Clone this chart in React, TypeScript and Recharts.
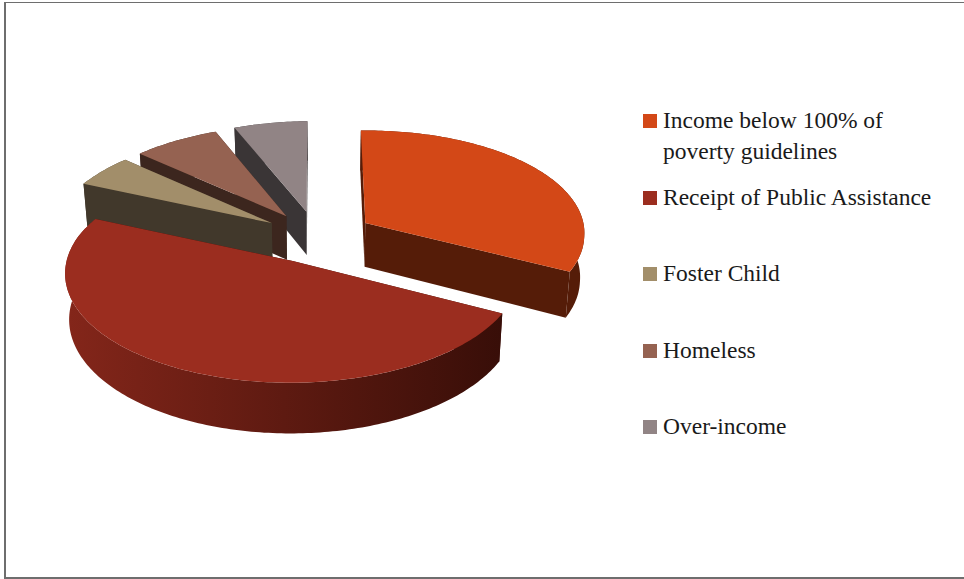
import React from 'react';
import { PieChart, Pie, Legend } from 'recharts';

const categories = [
  'Income below 100% of poverty guidelines',
  'Receipt of Public Assistance',
  'Foster Child',
  'Homeless',
  'Over-income',
];
const values = [33, 49, 5, 7, 6];

const topColors = ['#D34817', '#9B2D1F', '#A28E6A', '#956251', '#918485'];
const wallColors = ['#551C08', '#3E0F09', '#41382B', '#3C261E', '#3A3536'];
const rimLeftColors = ['#551C08', '#84261A', '#41382B', '#3C261E', '#3A3536'];
const rimRightColors = ['#551C08', '#380E08', '#41382B', '#3C261E', '#3A3536'];

// how far each slice is pulled out of the pie
const explodeBySlice = [0.258, 0.25, 0.25, 0.25, 0.255];

// legend row tops, the first row wraps on two lines
const legendRowTops = [105, 182, 258, 335, 411];

const TILT = 0.472;
const PERSPECTIVE = 0.1;
const BACK_SKEW = 5;
const DEPTH = 44.5;
const DEPTH_SHRINK = 0.016;

const pieData = categories
  .map((name, i) => ({
    name,
    value: values[i],
    colorIndex: i,
  }))
  .reverse();

// one slice of the tilted pie: walls first, then the rim, then the top face
const TiltedSlice = (props: any) => {
  const { cx, cy, outerRadius, startAngle, endAngle, payload } = props;
  const colorIndex = payload?.colorIndex ?? props.colorIndex;
  const rad = Math.PI / 180;
  const mid = ((startAngle + endAngle) / 2) * rad;
  const offU = explodeBySlice[colorIndex] * Math.cos(mid);
  const offV = -explodeBySlice[colorIndex] * Math.sin(mid);

  const project = (u: number, v: number, z: number) => {
    const s = 1 / (1 - PERSPECTIVE * v);
    const x = cx + outerRadius * u * s * (1 - DEPTH_SHRINK * z) - BACK_SKEW * Math.min(v, 0);
    const y = cy + outerRadius * TILT * v * s + DEPTH * z * s;
    return `${x.toFixed(2)} ${y.toFixed(2)}`;
  };
  const onDisc = (deg: number, z: number) =>
    project(offU + Math.cos(deg * rad), offV - Math.sin(deg * rad), z);
  const apex = (z: number) => project(offU, offV, z);

  const steps = Math.max(4, Math.ceil(Math.abs(endAngle - startAngle)));
  const angles: number[] = [];
  for (let i = 0; i <= steps; i++) {
    angles.push(startAngle + ((endAngle - startAngle) * i) / steps);
  }

  const arcTop = angles.map((a) => onDisc(a, 0));
  const arcBottom = angles.map((a) => onDisc(a, 1)).reverse();
  const rim = `M${[...arcTop, ...arcBottom].join(' L')} Z`;
  const wall = (deg: number) =>
    `M${apex(0)} L${onDisc(deg, 0)} L${onDisc(deg, 1)} L${apex(1)} Z`;
  const top = `M${apex(0)} L${arcTop.join(' L')} Z`;
  const gradientId = `rim-${colorIndex}`;

  return (
    <g>
      <defs>
        <linearGradient id={gradientId} x1="0" y1="0" x2="1" y2="0">
          <stop offset="0%" stopColor={rimLeftColors[colorIndex]} />
          <stop offset="100%" stopColor={rimRightColors[colorIndex]} />
        </linearGradient>
      </defs>
      <path d={wall(startAngle)} fill={wallColors[colorIndex]} />
      <path d={wall(endAngle)} fill={wallColors[colorIndex]} />
      <path d={rim} fill={`url(#${gradientId})`} />
      <path d={top} fill={topColors[colorIndex]} />
    </g>
  );
};

const LegendRows = () => (
  <div style={{ position: 'relative', width: 964, height: 579 }}>
    {categories.map((name, i) => (
      <div key={name} style={{ position: 'absolute', left: 643, top: legendRowTops[i], width: 300 }}>
        <span
          style={{
            position: 'absolute',
            left: 0,
            top: 9,
            width: 14,
            height: 14,
            background: topColors[i],
          }}
        />
        <div
          style={{
            marginLeft: 20,
            width: 272,
            fontFamily: '"Liberation Serif", serif',
            fontSize: 23.5,
            lineHeight: '31px',
            color: '#1a1a1a',
          }}
        >
          {name}
        </div>
      </div>
    ))}
  </div>
);

const App = () => {
  return (
    <div style={{ position: 'absolute', left: 0, top: 0, width: 964, height: 579, background: '#fff', overflow: 'hidden' }}>
      <div
        style={{
          position: 'absolute',
          left: 4,
          top: 2,
          width: 960,
          height: 574,
          borderTop: '1px solid #6e6e6e',
          borderLeft: '2px solid #6e6e6e',
          borderBottom: '2px solid #6e6e6e',
        }}
      />
      <div style={{ position: 'absolute', left: 0, top: 0 }}>
        <PieChart width={964} height={579} margin={{ top: 0, right: 0, bottom: 0, left: 0 }}>
          <Pie
            data={pieData}
            dataKey="value"
            nameKey="name"
            cx={317}
            cy={237}
            outerRadius={221}
            startAngle={91.5}
            endAngle={451.5}
            stroke="none"
            isAnimationActive={false}
            shape={TiltedSlice}
          />
          <Legend content={<LegendRows />} wrapperStyle={{ left: 0, top: 0, width: 964, height: 579 }} />
        </PieChart>
      </div>
    </div>
  );
};

export default App;
